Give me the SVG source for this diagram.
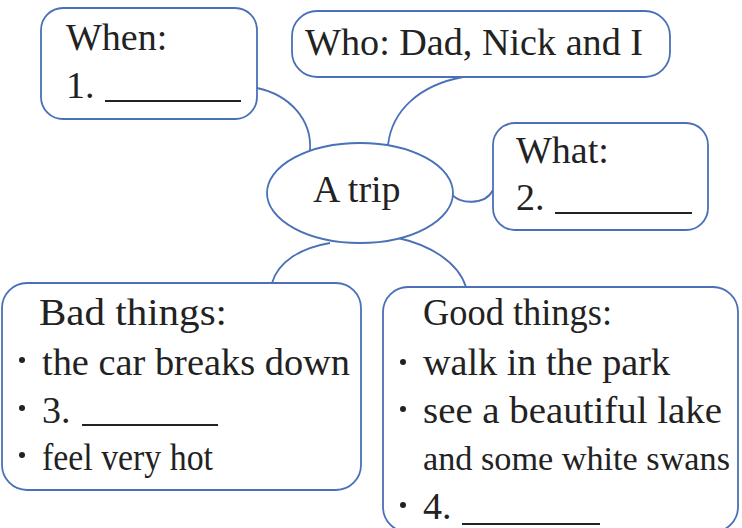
<svg xmlns="http://www.w3.org/2000/svg" width="742" height="528" viewBox="0 0 742 528">
<style>
.box{fill:#fff;stroke:#4a70b8;stroke-width:1.8}
.con{fill:none;stroke:#4a70b8;stroke-width:1.8}
.t{font-family:"Liberation Serif","Times New Roman",serif;font-size:38px;fill:#222}
.ul{stroke:#222;stroke-width:1.8}
.dot{fill:#222}
</style>
<rect width="742" height="528" fill="#fff"/>
<g id="connectors">
<path class="con" d="M257,88 C290,95 312,120 310,150"/>
<path class="con" d="M463,77 C420,85 392,110 388,145"/>
<path class="con" d="M452,194 C458,204 485,206 493,190"/>
<path class="con" d="M330,243 C300,248 278,262 272,283"/>
<path class="con" d="M398,238 C430,245 458,262 466,287"/>
</g>
<g id="center">
<ellipse class="box" cx="360" cy="193" rx="93" ry="50"/>
<text class="t" x="313" y="202">A trip</text>
</g>
<g id="when">
<rect class="box" x="41" y="8" width="216" height="111" rx="22"/>
<text class="t" x="66" y="50">When:</text>
<text class="t" x="66" y="98">1.</text>
<line class="ul" x1="105" y1="101" x2="241" y2="101"/>
</g>
<g id="who">
<rect class="box" x="292" y="11" width="378" height="66" rx="25"/>
<text class="t" x="305" y="55" textLength="338" lengthAdjust="spacingAndGlyphs">Who: Dad, Nick and I</text>
</g>
<g id="what">
<rect class="box" x="493" y="123" width="215" height="107" rx="22"/>
<text class="t" x="516" y="163">What:</text>
<text class="t" x="516" y="210">2.</text>
<line class="ul" x1="555" y1="213" x2="692" y2="213"/>
</g>
<g id="bad">
<rect class="box" x="2" y="283" width="359" height="207" rx="25"/>
<text class="t" x="39" y="325" textLength="188" lengthAdjust="spacingAndGlyphs">Bad things:</text>
<circle class="dot" cx="22" cy="360" r="3"/>
<text class="t" x="42" y="375" textLength="308" lengthAdjust="spacingAndGlyphs">the car breaks down</text>
<circle class="dot" cx="22" cy="408" r="3"/>
<text class="t" x="42" y="423">3.</text>
<line class="ul" x1="82" y1="425" x2="218" y2="425"/>
<circle class="dot" cx="22" cy="455" r="3"/>
<text class="t" x="42" y="470" textLength="171" lengthAdjust="spacingAndGlyphs">feel very hot</text>
</g>
<g id="good">
<rect class="box" x="383" y="287" width="355" height="245" rx="25"/>
<text class="t" x="423" y="325" textLength="189" lengthAdjust="spacingAndGlyphs">Good things:</text>
<circle class="dot" cx="403" cy="362" r="3"/>
<text class="t" x="423" y="375" textLength="247" lengthAdjust="spacingAndGlyphs">walk in the park</text>
<circle class="dot" cx="403" cy="409" r="3"/>
<text class="t" x="423" y="423" textLength="299" lengthAdjust="spacingAndGlyphs">see a beautiful lake</text>
<text class="t" x="423" y="470" style="font-size:34px" textLength="307" lengthAdjust="spacingAndGlyphs">and some white swans</text>
<circle class="dot" cx="403" cy="505" r="3"/>
<text class="t" x="423" y="519">4.</text>
<line class="ul" x1="462" y1="524" x2="600" y2="524"/>
</g>
</svg>
